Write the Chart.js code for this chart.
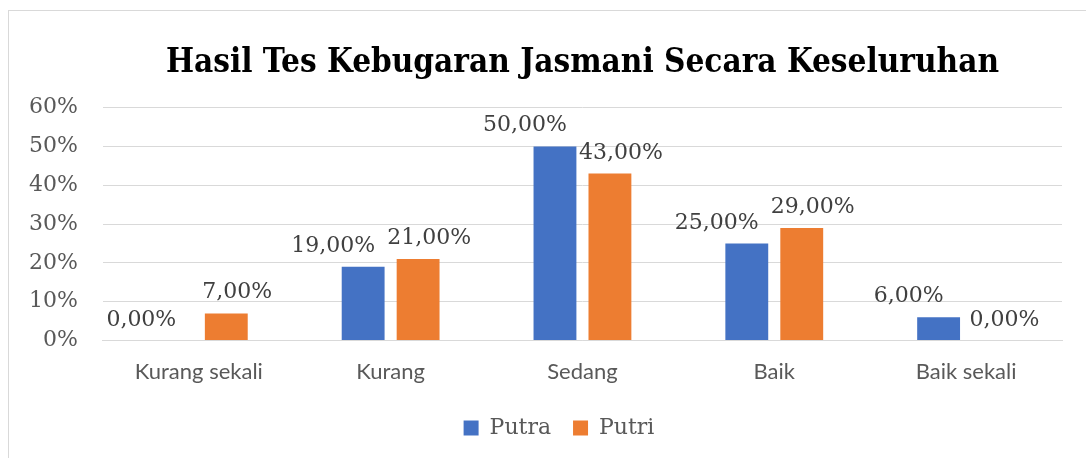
<!DOCTYPE html>
<html>
<head>
<meta charset="utf-8">
<script src="https://cdn.jsdelivr.net/npm/chart.js@4.4.0/dist/chart.umd.min.js"></script>
<style>
  html, body { margin: 0; padding: 0; background: #fff; }
  #frame { position: absolute; left: 8px; top: 10px; width: 1090px; height: 460px; border: 1px solid #d9d9d9; box-sizing: border-box; }
  #wrap { position: absolute; left: 0; top: 0; width: 1086px; height: 458px; }
</style>
</head>
<body>
<div id="frame"></div>
<div id="wrap"><canvas id="myChart"></canvas></div>
<script>
const kategori = ['Kurang sekali', 'Kurang', 'Sedang', 'Baik', 'Baik sekali'];
const putra = [0, 19, 50, 25, 6];
const putri = [7, 21, 43, 29, 0];
const judul = 'Hasil Tes Kebugaran Jasmani Secara Keseluruhan';

// label nilai di atas batang, digeser sedikit ke kiri/kanan seperti di Excel
const labelNilai = {
    id: 'labelNilai',
    afterDatasetsDraw(chart) {
        const ctx = chart.ctx;
        ctx.save();
        ctx.font = '22px "DejaVu Serif"';
        ctx.fillStyle = '#404040';
        ctx.textAlign = 'center';
        ctx.textBaseline = 'alphabetic';
        chart.data.datasets.forEach((ds, i) => {
            const meta = chart.getDatasetMeta(i);
            const geser = i === 0 ? -30 : 11;
            meta.data.forEach((bar, j) => {
                const teks = ds.data[j].toFixed(2).replace('.', ',') + '%';
                ctx.fillText(teks, bar.x + geser, bar.y - 15);
            });
        });
        ctx.restore();
    }
};

// judul dipusatkan pada area plot, legenda digeser sedikit ke kanan
const posisiBlok = {
    id: 'posisiBlok',
    afterLayout(chart) {
        const t = chart.titleBlock;
        if (t) {
            t.left = chart.chartArea.left;
            t.right = chart.chartArea.right;
        }
        const lg = chart.legend;
        if (lg) {
            lg.left += 26;
            lg.right += 26;
        }
    }
};

const ctx = document.getElementById('myChart').getContext('2d');
const myChart = new Chart(ctx, {
    type: 'bar',
    data: {
        labels: kategori,
        datasets: [
            {
                label: 'Putra',
                data: putra,
                backgroundColor: '#4472C4',
                categoryPercentage: 0.573,
                barPercentage: 0.78
            },
            {
                label: 'Putri',
                data: putri,
                backgroundColor: '#ED7D31',
                categoryPercentage: 0.573,
                barPercentage: 0.78
            }
        ]
    },
    options: {
        responsive: true,
        maintainAspectRatio: false,
        animation: false,
        layout: {
            padding: { left: 4, right: 24, top: 44, bottom: 9 }
        },
        scales: {
            x: {
                grid: { display: false },
                border: { color: '#d9d9d9' },
                ticks: {
                    color: '#595959',
                    padding: 10,
                    font: { family: 'Lato', size: 22 }
                }
            },
            y: {
                min: 0,
                max: 60,
                border: { display: false },
                grid: { color: '#d9d9d9', drawTicks: false },
                ticks: {
                    stepSize: 10,
                    color: '#595959',
                    padding: 25,
                    font: { family: 'DejaVu Serif', size: 22 },
                    callback: v => v + '%'
                }
            }
        },
        plugins: {
            title: {
                display: true,
                text: judul,
                color: '#000',
                font: { family: '"DejaVu Serif Condensed", "DejaVu Serif"', size: 33, weight: 'bold' },
                padding: { top: 0, bottom: 24 }
            },
            legend: {
                position: 'bottom',
                labels: {
                    boxWidth: 15,
                    boxHeight: 15,
                    color: '#595959',
                    padding: 22,
                    font: { family: 'DejaVu Serif', size: 22 }
                }
            },
            tooltip: { enabled: false }
        }
    },
    plugins: [labelNilai, posisiBlok]
});
</script>
</body>
</html>
